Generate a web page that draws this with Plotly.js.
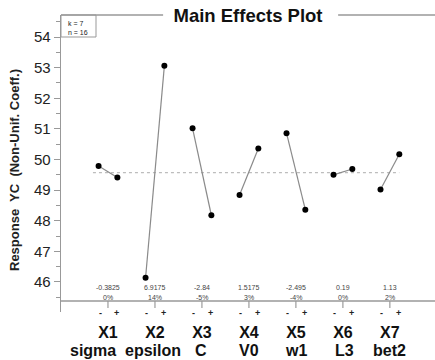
<!DOCTYPE html>
<html><head><meta charset="utf-8">
<script src="https://cdn.plot.ly/plotly-3.0.1.min.js"></script>
<style>html,body{margin:0;padding:0;background:#fff;}#chart{width:435px;height:360px;}</style>
</head><body><div id="chart"></div>
<script>
const factors = ["X1","X2","X3","X4","X5","X6","X7"];
const names = ["sigma","epsilon","C","V0","w1","L3","bet2"];
const lowVals = [49.79, 46.14, 51.02, 48.84, 50.86, 49.50, 49.02];
const highVals = [49.41, 53.06, 48.18, 50.36, 48.36, 49.69, 50.17];
const effects = ["-0.3825","6.9175","-2.84","1.5175","-2.495","0.19","1.13"];
const pcts = ["0%","14%","-5%","3%","-4%","0%","2%"];
const grandMean = 49.57;
const yTicks = [46,47,48,49,50,51,52,53,54];
const infoText = ["k = 7","n = 16"];

// layout-only helpers
const nameShift = [-15, -2, -1, 0, 0, 2, 0];
const PLOT_H = 297, PLOT_BOTTOM = 312;
const py = p => (PLOT_BOTTOM - p) / PLOT_H;   // pixel row -> paper y
const off = 0.2;

const traces = [];
traces.push({x:[0.68, factors.length + off], y:[grandMean, grandMean], mode:'lines',
  line:{color:'#bdbdbd', width:1.3, dash:'dot'}, hoverinfo:'skip', showlegend:false});
factors.forEach((f,i)=>{
  const c = i+1;
  traces.push({x:[c-off, c+off], y:[lowVals[i], highVals[i]], mode:'lines+markers',
    line:{color:'#8a8a8a', width:1.2}, marker:{color:'#000', size:6},
    showlegend:false, name:f});
});

const annotations = [];
const shapes = [];
const smallFont = {family:'Liberation Sans, Arial', size:7, color:'#444'};
const pmFont = {family:'Liberation Sans, Arial', size:9, color:'#222'};
factors.forEach((f,i)=>{
  const c = i+1;
  annotations.push({x:c, y:py(287), xref:'x', yref:'paper', text:effects[i], showarrow:false,
    font:smallFont, yanchor:'middle'});
  annotations.push({x:c, y:py(297), xref:'x', yref:'paper', text:pcts[i], showarrow:false,
    font:smallFont, yanchor:'middle'});
  annotations.push({x:c-off+0.03, y:py(313), xref:'x', yref:'paper', text:'<b>-</b>', showarrow:false,
    font:pmFont, yanchor:'middle'});
  annotations.push({x:c+off-0.02, y:py(313), xref:'x', yref:'paper', text:'<b>+</b>', showarrow:false,
    font:pmFont, yanchor:'middle'});
  annotations.push({x:c, y:py(350), xref:'x', yref:'paper', text:'<b>'+names[i]+'</b>', showarrow:false,
    xshift:nameShift[i], font:{family:'Liberation Sans, Arial', size:16, color:'#111'}, yanchor:'middle'});
  shapes.push({type:'line', xref:'x', yref:'paper', x0:c, x1:c, y0:py(301), y1:py(308),
    line:{color:'#888', width:1}});
});
shapes.push({type:'line', xref:'paper', yref:'paper', x0:0, x1:1, y0:py(301), y1:py(301),
  line:{color:'#999', width:1.3}});
shapes.push({type:'line', xref:'paper', yref:'paper', x0:0, x1:0.273, y0:1, y1:1,
  line:{color:'#999', width:1.3}});
shapes.push({type:'line', xref:'paper', yref:'paper', x0:0.741, x1:1, y0:1, y1:1,
  line:{color:'#999', width:1.3}});
shapes.push({type:'rect', xref:'paper', yref:'paper', x0:0, x1:35/374, y0:1, y1:py(37),
  line:{color:'#999', width:1}, fillcolor:'rgba(0,0,0,0)'});
annotations.push({xref:'paper', yref:'paper', x:5/374, y:py(18), xanchor:'left', yanchor:'top',
  text:infoText.join('<br>'), showarrow:false, align:'left',
  font:{family:'Liberation Sans, Arial', size:7, color:'#222'}});
annotations.push({xref:'paper', yref:'paper', x:-47/374, y:py(170), xanchor:'center', yanchor:'middle',
  textangle:-90, text:'<b>Response&nbsp; YC&nbsp; (Non-Unif. Coeff.)</b>', showarrow:false,
  font:{family:'Liberation Sans, Arial', size:13, color:'#222'}});

const layout = {
  width:435, height:360,
  margin:{l:61, r:0, t:15, b:48},
  paper_bgcolor:'#fff', plot_bgcolor:'#fff',
  title:{text:'<b>Main Effects Plot</b>', x:248/435, xanchor:'center', y:1-16/360, yanchor:'middle',
    font:{family:'Liberation Sans, Arial', size:18.5, color:'#111'}},
  xaxis:{range:[0,7.96], showgrid:false, zeroline:false, showline:false, ticks:'',
    automargin:false, tickangle:0,
    tickvals:factors.map((f,i)=>i+1),
    ticktext:factors.map(f=>'<b>'+f+'</b>'),
    tickfont:{family:'Liberation Sans, Arial', size:16, color:'#111'}, ticklabelstandoff:9},
  yaxis:{range:[45.02,54.72], showgrid:false, zeroline:false, showline:true, linecolor:'#999', linewidth:1.3,
    automargin:false,
    ticks:'outside', ticklen:6, tickcolor:'#999', tickvals:yTicks,
    minor:{ticks:'outside', ticklen:4, tickcolor:'#999', dtick:0.5, tick0:45.5, showgrid:false},
    tickfont:{family:'Liberation Sans, Arial', size:15, color:'#222'}},
  shapes:shapes, annotations:annotations, showlegend:false
};
Plotly.newPlot('chart', traces, layout, {displayModeBar:false, staticPlot:true});
</script></body></html>
